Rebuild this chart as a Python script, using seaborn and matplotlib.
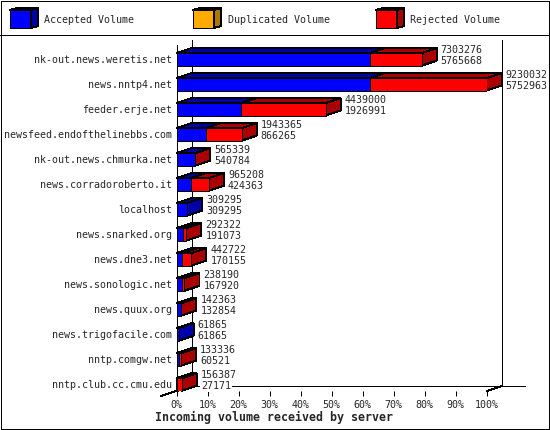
import matplotlib
matplotlib.use("Agg")
import matplotlib.pyplot as plt
from matplotlib.patches import Polygon, Rectangle
import pandas as pd
import seaborn as sns

hosts = [
    "nk-out.news.weretis.net", "news.nntp4.net", "feeder.erje.net",
    "newsfeed.endofthelinebbs.com", "nk-out.news.chmurka.net",
    "news.corradoroberto.it", "localhost", "news.snarked.org", "news.dne3.net",
    "news.sonologic.net", "news.quux.org", "news.trigofacile.com",
    "nntp.comgw.net", "nntp.club.cc.cmu.edu",
]
total_volume = [7303276, 9230032, 4439000, 1943365, 565339, 965208, 309295,
                292322, 442722, 238190, 142363, 61865, 133336, 156387]
accepted_volume = [5765668, 5752963, 1926991, 866265, 540784, 424363, 309295,
                   191073, 170155, 167920, 132854, 61865, 60521, 27171]
legend_names = ["Accepted Volume", "Duplicated Volume", "Rejected Volume"]
x_ticks = list(range(0, 101, 10))

BLUE, BLUE_DARK = "#0000ff", "#0000aa"
ORANGE, ORANGE_DARK = "#ffaa00", "#aa7700"
RED, RED_DARK = "#ff0000", "#aa0000"
LW = 0.72

# profundidad del efecto 3D: 15 px en x, 5 px en y
DEPTH_X = 15 / 3.1
DEPTH_Y = 0.2


def add_box(ax, x0, x1, y0, y1, front, dark, dx, dy, z):
    # cara superior y lateral, la frontal la pone el barplot
    top = [(x0, y0), (x0 + dx, y0 - dy), (x1 + dx, y0 - dy), (x1, y0)]
    side = [(x1, y0), (x1 + dx, y0 - dy), (x1 + dx, y1 - dy), (x1, y1)]
    for pts in (top, side):
        ax.add_patch(Polygon(pts, closed=True, facecolor=dark, edgecolor="black",
                             linewidth=LW, antialiased=False, clip_on=False, zorder=z))


def main():
    sns.set_style("white")
    plt.rcParams["font.family"] = ["DejaVu Sans Mono"]

    df = pd.DataFrame({"host": hosts, "total": total_volume, "accepted": accepted_volume})
    top_value = df["total"].max()
    df["total_pct"] = df["total"] / top_value * 100
    df["accepted_pct"] = df["accepted"] / top_value * 100

    fig = plt.figure(figsize=(5.5, 4.3), dpi=100)

    # lienzo en pixeles para marco, leyenda y paredes del fondo
    canvas = fig.add_axes([0, 0, 1, 1], zorder=0)
    canvas.set_xlim(0, 550)
    canvas.set_ylim(430, 0)
    canvas.axis("off")

    ax = fig.add_axes([176.5 / 550, (430 - 391) / 430, 310 / 550, 346 / 430], zorder=1)
    ax.patch.set_alpha(0)

    canvas.add_patch(Rectangle((0.5, 0.5), 548.5, 428.5, fill=False, edgecolor="black",
                               linewidth=LW, antialiased=False))
    canvas.plot([0, 550], [35, 35], color="black", lw=LW, antialiased=False)
    canvas.plot([191.5, 191.5], [40, 386], color="black", lw=LW, antialiased=False)
    canvas.plot([501.5, 501.5], [40, 386], color="black", lw=LW, antialiased=False)
    canvas.plot([191, 525], [385.5, 385.5], color="black", lw=LW, antialiased=False)
    canvas.plot([161, 191], [396, 386], color="black", lw=LW, antialiased=False)
    canvas.plot([487, 502], [391, 386], color="black", lw=LW, antialiased=False)

    # leyenda
    swatches = [(10, BLUE, BLUE_DARK), (193, ORANGE, ORANGE_DARK), (376, RED, RED_DARK)]
    for (sx, face, dark), name in zip(swatches, legend_names):
        canvas.add_patch(Rectangle((sx, 10), 21, 18, facecolor=face, edgecolor="black",
                                   linewidth=LW, antialiased=False))
        add_box(canvas, sx, sx + 21, 10, 28, face, dark, 7, 2, 2)
        canvas.text(sx + 34.5, 20, name, fontsize=7.2, va="center", ha="left")

    sns.barplot(data=df, y="host", x="total_pct", orient="y", color=RED, saturation=1,
                width=0.5, edgecolor="black", linewidth=LW, antialiased=False, ax=ax, zorder=3)
    sns.barplot(data=df, y="host", x="accepted_pct", orient="y", color=BLUE, saturation=1,
                width=0.5, edgecolor="black", linewidth=LW, antialiased=False, ax=ax, zorder=4)

    ax.set_xlim(0, 100)
    ax.set_ylim(13.26, -0.572)

    red_bars = ax.containers[0]
    blue_bars = ax.containers[1]
    for i, (r, b) in enumerate(zip(red_bars, blue_bars)):
        y0, y1 = r.get_y(), r.get_y() + r.get_height()
        x_acc = b.get_width()
        x_tot = r.get_width()
        add_box(ax, 0, x_acc, y0, y1, BLUE, BLUE_DARK, DEPTH_X, DEPTH_Y, 2)
        if x_tot > x_acc:
            add_box(ax, x_acc, x_tot, y0, y1, RED, RED_DARK, DEPTH_X, DEPTH_Y, 2.5)
        for value, off in ((total_volume[i], 9.4), (accepted_volume[i], -1.6)):
            ax.annotate(str(value), xy=(x_tot, i), xytext=(19 * 0.72, off * 0.72),
                        textcoords="offset points", fontsize=7.2, ha="left", va="center",
                        annotation_clip=False, zorder=6,
                        bbox=dict(facecolor="white", edgecolor="none", pad=0.8))

    sns.despine(ax=ax, top=True, right=True, bottom=True, left=False)
    ax.spines["left"].set_color("black")
    ax.spines["left"].set_linewidth(LW)
    ax.spines["left"].set_antialiased(False)

    ax.set_xticks(x_ticks)
    ax.set_xticklabels([f"{t}%" for t in x_ticks], fontsize=7.2)
    ax.tick_params(axis="x", bottom=True, length=3.6, width=LW, pad=3, color="black")
    ax.tick_params(axis="y", left=False, length=0, pad=3.4, labelsize=7.2)
    ax.set_ylabel("")
    ax.set_xlabel("")
    canvas.text(274, 417, "Incoming volume received by server", fontsize=8.4,
                fontweight="bold", ha="center", va="center")

    fig.savefig("out.png", dpi=100)


if __name__ == "__main__":
    main()
